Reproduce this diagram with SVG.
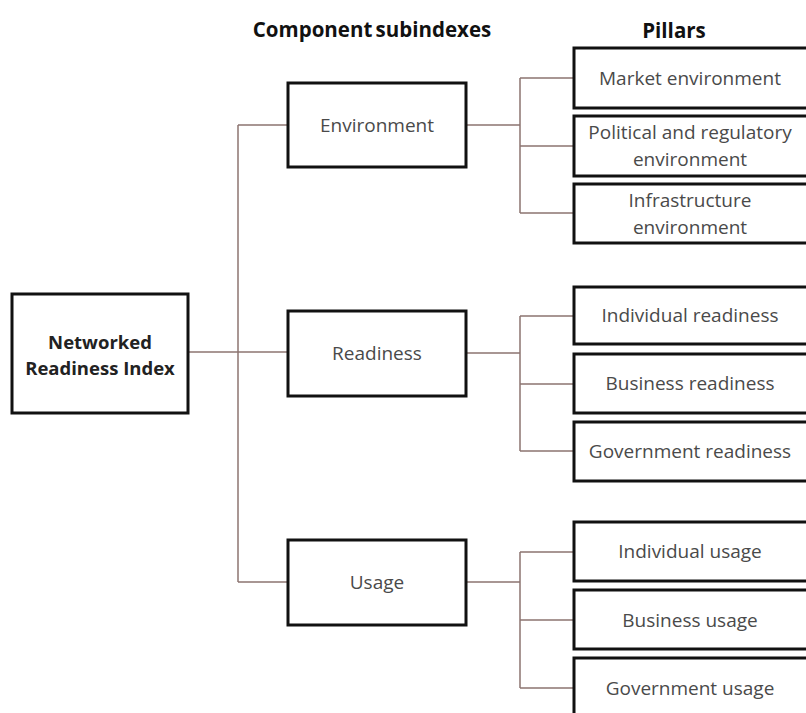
<svg xmlns="http://www.w3.org/2000/svg" width="806" height="713" viewBox="0 0 806 713">
<style>
.box{fill:#ffffff;stroke:#111111;stroke-width:3}
.conn{fill:none;stroke:#8c7470;stroke-width:1.5}
.t{font-family:"Open Sans","Liberation Sans",sans-serif;font-size:19px;fill:#4a4a4a;text-anchor:middle;dominant-baseline:central}
.b{font-family:"Open Sans","Liberation Sans",sans-serif;font-size:18.5px;font-weight:bold;fill:#222;text-anchor:middle;dominant-baseline:central}
.h{font-family:"Open Sans","Liberation Sans",sans-serif;font-size:20.5px;font-weight:bold;fill:#111;text-anchor:middle;dominant-baseline:central}
</style>
<rect width="806" height="713" fill="#ffffff"/>
<text class="h" x="372" y="29" word-spacing="-2">Component subindexes</text>
<text class="h" x="674" y="30">Pillars</text>
<g id="connectors">
<path class="conn" d="M188 352 H288"/>
<path class="conn" d="M238 125 V582"/>
<path class="conn" d="M238 125 H288 M238 582 H288"/>
<path class="conn" d="M466 125 H520 M520 78 V213 M520 78 H574 M520 146 H574 M520 213 H574"/>
<path class="conn" d="M466 353 H520 M520 316 V451 M520 316 H574 M520 384 H574 M520 451 H574"/>
<path class="conn" d="M466 582 H520 M520 552 V688 M520 552 H574 M520 620 H574 M520 688 H574"/>
</g>
<g id="nri"><rect class="box" x="12" y="294" width="176" height="119"/><text class="b" x="100" y="341">Networked</text><text class="b" x="100" y="367">Readiness Index</text></g>
<g id="environment"><rect class="box" x="288" y="83" width="178" height="84"/><text class="t" x="377" y="125">Environment</text></g>
<g id="readiness"><rect class="box" x="288" y="311" width="178" height="85"/><text class="t" x="377" y="353">Readiness</text></g>
<g id="usage"><rect class="box" x="288" y="540" width="178" height="85"/><text class="t" x="377" y="582">Usage</text></g>
<g id="market"><rect class="box" x="574" y="48" width="240" height="60"/><text class="t" x="690" y="78">Market environment</text></g>
<g id="political"><rect class="box" x="574" y="116" width="240" height="60"/><text class="t" x="690" y="132">Political and regulatory</text><text class="t" x="690" y="159">environment</text></g>
<g id="infrastructure"><rect class="box" x="574" y="184" width="240" height="59"/><text class="t" x="690" y="200">Infrastructure</text><text class="t" x="690" y="227">environment</text></g>
<g id="individual-readiness"><rect class="box" x="574" y="287" width="240" height="57"/><text class="t" x="690" y="315">Individual readiness</text></g>
<g id="business-readiness"><rect class="box" x="574" y="354" width="240" height="59"/><text class="t" x="690" y="383">Business readiness</text></g>
<g id="government-readiness"><rect class="box" x="574" y="422" width="240" height="59"/><text class="t" x="690" y="451">Government readiness</text></g>
<g id="individual-usage"><rect class="box" x="574" y="522" width="240" height="59"/><text class="t" x="690" y="551">Individual usage</text></g>
<g id="business-usage"><rect class="box" x="574" y="590" width="240" height="59"/><text class="t" x="690" y="620">Business usage</text></g>
<g id="government-usage"><rect class="box" x="574" y="658" width="240" height="70"/><text class="t" x="690" y="688">Government usage</text></g>
</svg>
